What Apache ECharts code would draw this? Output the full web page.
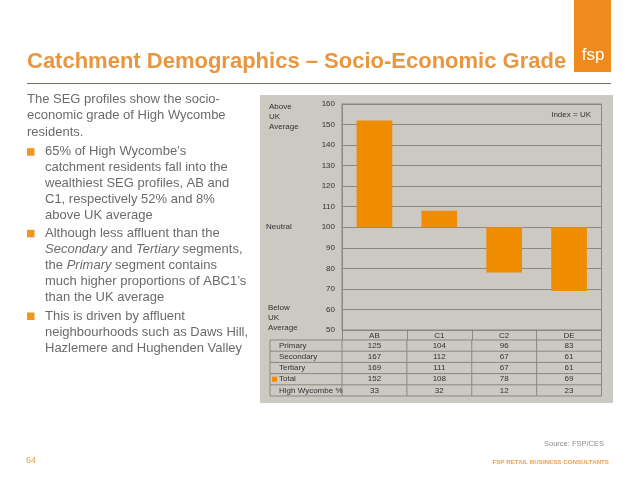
<!DOCTYPE html>
<html><head><meta charset="utf-8">
<script src="https://cdn.jsdelivr.net/npm/echarts@6/dist/echarts.min.js"></script>
<style>html,body{margin:0;padding:0;background:#fff}#c{width:638px;height:479px}</style>
</head><body><div id="c"></div>
<script>
const categories = ['AB', 'C1', 'C2', 'DE'];
const primary = [125, 104, 96, 83];
const secondary = [167, 112, 67, 61];
const tertiary = [169, 111, 67, 61];
const total = [152, 108, 78, 69];
const hwPct = [33, 32, 12, 23];
const rowLabels = ['Primary', 'Secondary', 'Tertiary', 'Total', 'High Wycombe %'];
const tableRows = [primary, secondary, tertiary, total, hwPct];
const yMin = 50, yMax = 160, yStep = 10, neutral = 100;

const FONT = 'Liberation Sans, Arial, sans-serif';
const ORANGE = '#f08c00';
const GRID = '#8c8781';
const gl = 342, gr = 36.5, gt = 104, gb = 149;
const W = 638, H = 479;
const plotW = W - gl - gr;
const catW = plotW / categories.length;
const tableTop = H - gb + 10, rowH = 11.2, labelLeft = 270;

const base = total.map(v => Math.min(v, neutral));
const delta = total.map(v => Math.abs(v - neutral));

const g = [];
// panel
g.push({type: 'rect', z: -10, shape: {x: 260, y: 95, width: 353, height: 308}, style: {fill: '#ccc8c2'}});
// logo
g.push({type: 'rect', shape: {x: 574, y: 0, width: 37, height: 72}, style: {fill: '#ee8b1c'}});
g.push({type: 'text', x: 593, y: 55, style: {text: 'fsp', fill: '#fff', font: '17px ' + FONT, align: 'center', verticalAlign: 'middle'}});
// title
g.push({type: 'text', x: 27, y: 62, style: {text: 'Catchment Demographics – Socio-Economic Grade', fill: '#e8963f', font: 'bold 22px ' + FONT, verticalAlign: 'middle'}});
g.push({type: 'line', shape: {x1: 27, y1: 83.5, x2: 611, y2: 83.5}, style: {stroke: '#7d6e5c', lineWidth: 1}});
// body text
const TXT = '#6b6b6b';
const bodyFont = '13px ' + FONT;
function line(x, y, t) {
  g.push({type: 'text', x: x, y: y, style: {text: t, fill: TXT, font: bodyFont, verticalAlign: 'middle'}});
}
function richLine(x, y, t) {
  g.push({type: 'text', x: x, y: y, style: {text: t, fill: TXT, font: bodyFont, verticalAlign: 'middle',
    rich: {i: {fontStyle: 'italic', fontSize: 13, fontFamily: FONT, fill: TXT}}}});
}
function bullet(y) {
  g.push({type: 'rect', shape: {x: 27, y: y - 3.5, width: 7.5, height: 7.5}, style: {fill: '#f0951e'}});
}
line(27, 99, 'The SEG profiles show the socio-');
line(27, 115.7, 'economic grade of High Wycombe');
line(27, 132.3, 'residents.');
bullet(151.7);
[['65% of High Wycombe\u2019s', 151.7], ['catchment residents fall into the', 167.7], ['wealthiest SEG profiles, AB and', 183.7], ['C1, respectively 52% and 8%', 199.7], ['above UK average', 215.5]].forEach(a => line(45, a[1], a[0]));
bullet(233.3);
line(45, 233.3, 'Although less affluent than the');
richLine(45, 249.2, '{i|Secondary} and {i|Tertiary} segments,');
richLine(45, 265, 'the {i|Primary} segment contains');
line(45, 281, 'much higher proportions of ABC1\u2019s');
line(45, 297, 'than the UK average');
bullet(316);
line(45, 316, 'This is driven by affluent');
line(45, 332, 'neighbourhoods such as Daws Hill,');
line(45, 348, 'Hazlemere and Hughenden Valley');
// axis annotations
const small = '8px ' + FONT;
g.push({type: 'text', x: 269, y: 102, style: {text: 'Above\nUK\nAverage', fill: '#333', font: small, lineHeight: 10}});
g.push({type: 'text', x: 266, y: 227, style: {text: 'Neutral', fill: '#333', font: small, verticalAlign: 'middle'}});
g.push({type: 'text', x: 268, y: 303, style: {text: 'Below\nUK\nAverage', fill: '#333', font: small, lineHeight: 10}});
g.push({type: 'text', x: 591, y: 115, style: {text: 'Index = UK', fill: '#333', font: small, align: 'right', verticalAlign: 'middle'}});
// data table
const nRows = tableRows.length;
for (let r = 0; r <= nRows; r++) {
  const y = tableTop + r * rowH;
  g.push({type: 'line', shape: {x1: labelLeft, y1: y, x2: W - gr, y2: y}, style: {stroke: GRID, lineWidth: 1}});
}
const vx = [labelLeft];
for (let i = 0; i <= categories.length; i++) vx.push(gl + i * catW);
vx.forEach(x => g.push({type: 'line', shape: {x1: x, y1: tableTop, x2: x, y2: tableTop + nRows * rowH}, style: {stroke: GRID, lineWidth: 1}}));
tableRows.forEach((row, r) => {
  const yc = tableTop + (r + 0.5) * rowH;
  g.push({type: 'text', x: 279, y: yc, style: {text: rowLabels[r], fill: '#333', font: small, verticalAlign: 'middle'}});
  row.forEach((v, i) => {
    g.push({type: 'text', x: gl + (i + 0.5) * catW, y: yc, style: {text: String(v), fill: '#333', font: small, align: 'center', verticalAlign: 'middle'}});
  });
});
g.push({type: 'rect', shape: {x: 272, y: tableTop + 3.5 * rowH - 2.5, width: 5, height: 5}, style: {fill: ORANGE}});
// footer
g.push({type: 'text', x: 604, y: 444, style: {text: 'Source: FSP/CES', fill: '#8a8a8a', font: '7.5px ' + FONT, align: 'right', verticalAlign: 'middle'}});
g.push({type: 'text', x: 26, y: 461, style: {text: '64', fill: '#eca04f', font: '9px ' + FONT, verticalAlign: 'middle'}});
g.push({type: 'text', x: 609, y: 462, style: {text: 'FSP RETAIL BUSINESS CONSULTANTS', fill: '#eca04f', font: 'bold 6.2px ' + FONT, align: 'right', verticalAlign: 'middle'}});

const chart = echarts.init(document.getElementById('c'), null, {renderer: 'canvas'});
chart.setOption({
  animation: false,
  backgroundColor: '#fff',
  textStyle: {fontFamily: FONT},
  grid: {left: gl, right: gr, top: gt, bottom: gb, show: true, borderColor: GRID, borderWidth: 1, backgroundColor: 'transparent'},
  xAxis: {
    type: 'category', data: categories,
    axisLine: {show: true, lineStyle: {color: GRID, width: 1}},
    axisTick: {show: true, length: 10, lineStyle: {color: GRID}, interval: 0},
    axisLabel: {fontSize: 8, color: '#333', margin: 2, fontFamily: FONT}
  },
  yAxis: {
    type: 'value', min: yMin, max: yMax, interval: yStep,
    axisLine: {show: true, lineStyle: {color: GRID}},
    axisTick: {show: false},
    splitLine: {show: true, lineStyle: {color: GRID, width: 1}},
    axisLabel: {fontSize: 8, color: '#333', margin: 7, fontFamily: FONT}
  },
  series: [
    {type: 'bar', stack: 's', data: base, barWidth: '55%', itemStyle: {color: 'transparent'}, silent: true},
    {type: 'bar', stack: 's', data: delta, barWidth: '55%', itemStyle: {color: ORANGE}}
  ],
  graphic: {elements: g}
});
</script></body></html>
